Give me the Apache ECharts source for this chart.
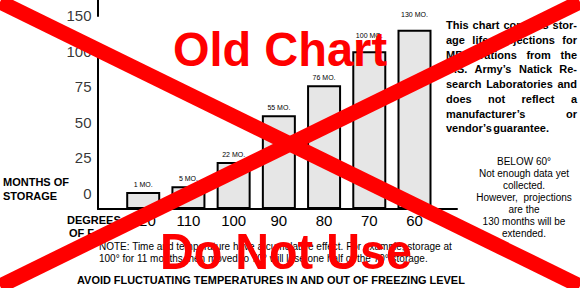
<!DOCTYPE html>
<html><head><meta charset="utf-8">
<script src="https://cdn.jsdelivr.net/npm/echarts@6/dist/echarts.min.js"></script>
<style>html,body{margin:0;padding:0;background:#fff}#c{width:580px;height:288px}</style>
</head><body><div id="c"></div>
<script>
// ---- data ----
const temperatures = ['120', '110', '100', '90', '80', '70', '60'];
const months = [1, 5, 22, 55, 76, 100, 130];
const yTickValues = [0, 25, 50, 75, 100, 150];
const paraLines = [
  'This chart contains stor-',
  'age life projections for',
  'MRE rations from the',
  'U.S. Army\u2019s Natick Re-',
  'search Laboratories and',
  'does not reflect a',
  'manufacturer\u2019s or',
  'vendor\u2019s guarantee.'
];
const belowLines = ['BELOW 60\u00b0', 'Not enough data yet', 'collected.', 'However,  projections', 'are the', '130 months will be', 'extended.'];
const noteLines = [
  'NOTE: Time and temperature have a cumulative effect. For example, storage at',
  '100\u00b0 for 11 months then moved to 70\u00b0 will lose one half of the 70\u00b0 storage.'
];
const avoidText = 'AVOID FLUCTUATING TEMPERATURES IN AND OUT OF FREEZING LEVEL';

// ---- helpers ----
const FF = '"Liberation Sans", Arial, Helvetica, sans-serif';
const BW = {};
('a556 b611 c556 d611 e556 f333 g611 h611 i278 j278 k556 l278 m889 n611 o611 p611 q611 r389 s556 t333 u611 v556 w778 x556 y556 z500 ' +
 'A722 B722 C722 D722 E667 F611 G778 H722 I278 J556 K722 L611 M833 N722 O778 P667 Q778 R722 S667 T611 U722 V667 W944 X667 Y667 Z611')
  .split(' ').forEach(s => { BW[s[0]] = +s.slice(1); });
Object.assign(BW, { ' ': 278, '.': 278, ',': 278, '-': 333, '\u2019': 278, '\u00b0': 400, ':': 333 });
function textW(t, size) { let w = 0; for (const ch of t) w += (BW[ch] || 556); return w * size / 1000; }
function txt(o) {
  const s = Object.assign({ fontFamily: FF, fill: '#000' }, o.style);
  if (s.textAlign) s.align = s.textAlign;
  if (s.textVerticalAlign) s.verticalAlign = s.textVerticalAlign;
  return Object.assign({ type: 'text', silent: true }, o, { style: s });
}

const graphics = [];
graphics.push(txt({ x: 3, y: 182, style: { text: 'MONTHS OF', fontSize: 11, fontWeight: 'bold', textVerticalAlign: 'middle' } }));
graphics.push(txt({ x: 3, y: 195.5, style: { text: 'STORAGE', fontSize: 11, fontWeight: 'bold', textVerticalAlign: 'middle' } }));
graphics.push(txt({ x: 67, y: 220, style: { text: 'DEGREES', fontSize: 11, fontWeight: 'bold', textVerticalAlign: 'middle' } }));
graphics.push(txt({ x: 69, y: 232.5, style: { text: 'OF F', fontSize: 11, fontWeight: 'bold', textVerticalAlign: 'middle' } }));

const PX0 = 446, PW = 131;
paraLines.forEach((line, i) => {
  const y = 25 + i * 14.75;
  const words = line.split(' ');
  const ws = words.map(w => textW(w, 11));
  const sum = ws.reduce((a, b) => a + b, 0);
  const last = i === paraLines.length - 1;
  let gap = last ? 1.5 : (PW - sum) / (words.length - 1);
  let sc = 1;
  if (gap < 1.2) { gap = 1.2; sc = PW / (sum + gap * (words.length - 1)); }
  let x = 0;
  words.forEach((w, k) => {
    graphics.push(txt({ x: PX0 + x * sc, y: y, scaleX: sc, style: { text: w, fontSize: 11, fontWeight: 'bold', textVerticalAlign: 'middle' } }));
    x += ws[k] + gap;
  });
});
belowLines.forEach((l, i) => {
  graphics.push(txt({ x: 524, y: 161.3 + i * 12, style: { text: l, fontSize: 10, textAlign: 'center', textVerticalAlign: 'middle' } }));
});
noteLines.forEach((l, i) => {
  graphics.push(txt({ x: 99, y: 246.7 + i * 11.7, style: { text: l, fontSize: 10, textVerticalAlign: 'middle' } }));
});
graphics.push(txt({ x: 77, y: 280.5, scaleX: 391 / textW(avoidText, 10.5), style: { text: avoidText, fontSize: 10.5, fontWeight: 'bold', textVerticalAlign: 'middle' } }));

graphics.push({ type: 'line', z: 100, silent: true, shape: { x1: 0, y1: 2, x2: 580, y2: 286 }, style: { stroke: '#ff0000', lineWidth: 15 } });
graphics.push({ type: 'line', z: 100, silent: true, shape: { x1: 0, y1: 286, x2: 580, y2: 2 }, style: { stroke: '#ff0000', lineWidth: 15 } });
graphics.push(txt({ z: 101, x: 173, y: 49.5, scaleX: 214 / textW('Old Chart', 49), style: { text: 'Old Chart', fontSize: 49, fontWeight: 'bold', fill: '#ff0000', textVerticalAlign: 'middle' } }));
graphics.push(txt({ z: 101, x: 160, y: 251, scaleX: 252 / textW('Do Not Use', 50), style: { text: 'Do Not Use', fontSize: 50, fontWeight: 'bold', fill: '#ff0000', textVerticalAlign: 'middle' } }));

const chart = echarts.init(document.getElementById('c'), null, { renderer: 'svg' });
chart.setOption({
  animation: false,
  backgroundColor: '#fff',
  grid: { left: 98, top: 0, width: 359, height: 209, outerBoundsMode: 'none' },
  xAxis: {
    type: 'value', min: 0, max: 7.94, interval: 1,
    axisLine: { onZero: false, lineStyle: { color: '#000', width: 2 } },
    axisTick: { show: false }, splitLine: { show: false },
    axisLabel: { formatter: v => temperatures[v - 1] || '', fontSize: 15, color: '#000', margin: 4, fontFamily: FF, showMaxLabel: false }
  },
  yAxis: {
    type: 'value', min: -11, max: 161, startValue: -11,
    breaks: [{ start: 100, end: 150, gap: 25 }],
    breakArea: { show: false },
    axisLine: { onZero: false, show: true, lineStyle: { color: '#000', width: 2 } },
    axisTick: { show: false, customValues: yTickValues }, splitLine: { show: false },
    axisLabel: { show: false, customValues: yTickValues }
  },
  series: [{
    type: 'bar',
    barWidth: 34,
    data: months.map((v, i) => ({ value: [i + 1, v], label: { distance: v >= 100 ? 12 : 4 } })),
    itemStyle: { color: '#e6e6e6', borderColor: '#000', borderWidth: 2 },
    label: { show: true, position: 'top', formatter: p => p.value[1] + ' MO.', fontSize: 7, color: '#000', fontFamily: FF }
  }, {
    // y tick labels placed on the axis through its own (broken) scale
    type: 'scatter',
    silent: true, clip: false, z: 20,
    symbolSize: 1,
    itemStyle: { color: 'rgba(0,0,0,0)' },
    data: yTickValues.map(v => [0, v]),
    label: { show: true, position: 'left', distance: 6, formatter: p => String(p.value[1]), fontSize: 15, color: '#000', fontFamily: FF }
  }],
  graphic: { elements: graphics }
});
</script>
</body></html>
